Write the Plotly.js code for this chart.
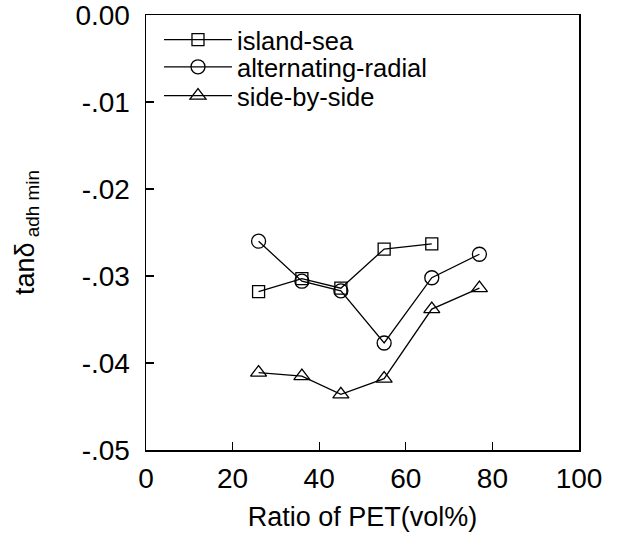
<!DOCTYPE html>
<html>
<head>
<meta charset="utf-8">
<script src="https://cdn.plot.ly/plotly-3.0.1.min.js"></script>
<style>html,body{margin:0;padding:0;background:#fff;}#chart{width:617px;height:548px;}</style>
</head>
<body>
<div id="chart"></div>
<script>
const seriesNames = ["island-sea", "alternating-radial", "side-by-side"];
const xIsland = [26, 36, 45, 55, 66];
const yIsland = [-0.0318, -0.0303, -0.0314, -0.0269, -0.0263];
const xRadial = [26, 36, 45, 55, 66, 77];
const yRadial = [-0.0260, -0.0306, -0.0317, -0.0377, -0.0302, -0.0275];
const xSide = [26, 36, 45, 55, 66, 77];
const ySide = [-0.0411, -0.0415, -0.0436, -0.0418, -0.0338, -0.0314];
const yTickVals = [0, -0.01, -0.02, -0.03, -0.04, -0.05];
const yTickText = ["0.00", "-.01", "-.02", "-.03", "-.04", "-.05"];
const xTickVals = [0, 20, 40, 60, 80, 100];

const font = {family: "Liberation Sans, Arial, sans-serif", color: "#000"};
function mk(x, y, name, symbol, size, legendId) {
  return {
    x: x, y: y, name: name, type: "scatter", mode: "lines+markers", legend: legendId,
    line: {color: "#000", width: 1.3},
    marker: {symbol: symbol, size: size, color: "#000", line: {color: "#000", width: 1.3}}
  };
}
const data = [
  mk(xIsland, yIsland, seriesNames[0], "square-open", 12, "legend"),
  mk(xRadial, yRadial, seriesNames[1], "circle-open", 14, "legend2"),
  mk(xSide, ySide, seriesNames[2], "triangle-up-open", 14, "legend3")
];
function leg(yc) {
  return {x: 0.03, y: yc, xanchor: "left", yanchor: "middle", bgcolor: "rgba(0,0,0,0)",
          font: Object.assign({size: 25.5}, font), itemwidth: 68};
}
const axisCommon = {
  showgrid: false, zeroline: false, showline: true, mirror: true,
  linecolor: "#000", linewidth: 1.5, ticks: "inside", ticklen: 8,
  tickcolor: "#000", tickwidth: 1.3, tickfont: Object.assign({size: 28}, font),
  ticklabeloverflow: "allow"
};
const layout = {
  width: 617, height: 548,
  margin: {l: 146, r: 38, t: 15, b: 98},
  paper_bgcolor: "#fff", plot_bgcolor: "#fff",
  showlegend: true,
  legend: leg(0.9425),
  legend2: leg(0.880),
  legend3: leg(0.8138),
  xaxis: Object.assign({}, axisCommon, {
    range: [0, 100], tickvals: xTickVals, ticklabelstandoff: 3,
    title: {text: "Ratio of PET(vol%)", font: Object.assign({size: 27}, font), standoff: 14}
  }),
  yaxis: Object.assign({}, axisCommon, {
    range: [-0.05, 0], tickvals: yTickVals, ticktext: yTickText, ticklabelstandoff: 9,
    title: {text: "tanδ<sub> adh min</sub>", font: Object.assign({size: 27}, font), standoff: 33}
  })
};
Plotly.newPlot("chart", data, layout, {displayModeBar: false, staticPlot: true});
</script>
</body>
</html>
